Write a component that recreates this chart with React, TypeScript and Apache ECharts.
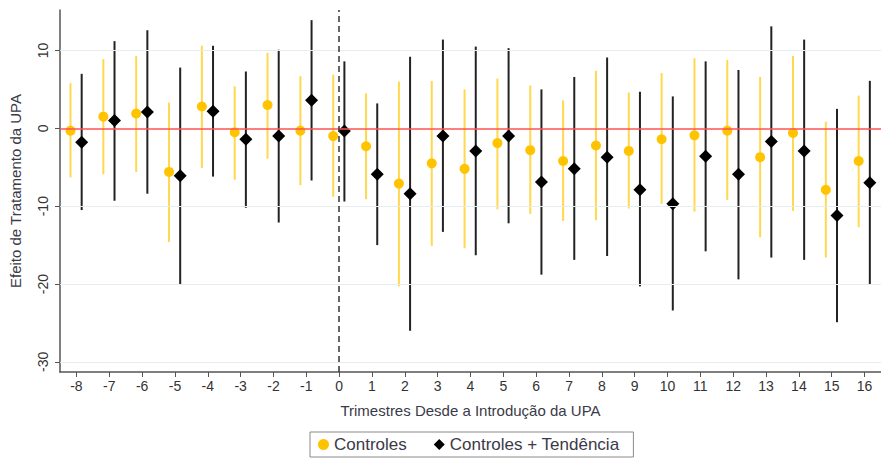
import React, { useEffect, useRef } from "react";
import * as echarts from "echarts";

const quarters = [-8, -7, -6, -5, -4, -3, -2, -1, 0, 1, 2, 3, 4, 5, 6, 7, 8, 9, 10, 11, 12, 13, 14, 15, 16];
const yTicks = [-30, -20, -10, 0, 10];

const ctrlEst = [-0.3, 1.5, 1.9, -5.6, 2.8, -0.5, 3.0, -0.3, -1.0, -2.3, -7.1, -4.5, -5.2, -1.9, -2.8, -4.2, -2.2, -2.9, -1.4, -0.9, -0.3, -3.7, -0.6, -7.9, -4.2];
const ctrlHigh = [5.8, 8.9, 9.3, 3.3, 10.6, 5.4, 9.7, 6.7, 6.9, 4.5, 6.0, 6.1, 5.0, 6.4, 5.5, 3.6, 7.4, 4.6, 7.1, 9.0, 8.8, 6.6, 9.3, 0.85, 4.2];
const ctrlLow = [-6.3, -5.9, -5.6, -14.6, -5.1, -6.6, -3.9, -7.3, -8.8, -9.1, -20.3, -15.1, -15.4, -10.4, -11.0, -11.9, -11.8, -10.3, -9.7, -10.7, -9.2, -14.0, -10.6, -16.6, -12.7];

const trendEst = [-1.8, 1.0, 2.1, -6.1, 2.2, -1.4, -1.0, 3.6, -0.35, -5.9, -8.4, -1.0, -2.9, -1.0, -6.9, -5.2, -3.7, -7.9, -9.7, -3.6, -5.9, -1.7, -2.9, -11.2, -7.0];
const trendHigh = [7.0, 11.2, 12.6, 7.8, 10.6, 7.3, 10.1, 13.9, 8.6, 3.2, 9.2, 11.4, 10.5, 10.3, 5.0, 6.6, 9.1, 4.7, 4.1, 8.6, 7.5, 13.1, 11.4, 2.5, 6.1];
const trendLow = [-10.5, -9.3, -8.4, -20.0, -6.2, -10.2, -12.1, -6.7, -9.4, -15.0, -26.0, -13.3, -16.3, -12.2, -18.8, -16.9, -16.4, -20.3, -23.4, -15.8, -19.4, -16.6, -16.9, -24.9, -20.1];

const ctrlOffset = -0.18;
const trendOffset = 0.16;

const FONT = "'Liberation Sans', Arial, sans-serif";
const YELLOW = "#FFC300";
const YELLOW_CI = "#FFD84D";
const BLACK = "#000000";
const BLACK_CI = "#222222";

function errorBars(name: string, offset: number, lo: number[], hi: number[], color: string, z: number) {
  return {
    name,
    type: "custom",
    z,
    silent: true,
    encode: { x: 0, y: [1, 2] },
    data: quarters.map((q, i) => [q + offset, lo[i], hi[i]]),
    renderItem: (params: any, api: any) => {
      const x = api.value(0);
      const p1 = api.coord([x, api.value(2)]);
      const p2 = api.coord([x, api.value(1)]);
      return {
        type: "line",
        shape: { x1: p1[0], y1: p1[1], x2: p2[0], y2: p2[1] },
        style: { stroke: color, lineWidth: 2 },
      };
    },
  };
}

export default function App() {
  const ref = useRef<HTMLDivElement>(null);
  useEffect(() => {
    if (!ref.current) return;
    const chart = echarts.init(ref.current, null, { renderer: "svg" });
    const option: any = {
      animation: false,
      backgroundColor: "#ffffff",
      textStyle: { fontFamily: FONT },
      grid: { left: 59, top: 10, width: 823, height: 362 },
      legend: {
        left: 310,
        top: 432,
        orient: "horizontal",
        borderColor: "#8a8a8a",
        borderWidth: 1,
        padding: [4, 14, 4, 8],
        itemGap: 27,
        itemWidth: 11,
        itemHeight: 11,
        textStyle: { fontFamily: FONT, fontSize: 17, color: "#3a3a48" },
        data: [
          { name: "Controles", icon: "circle" },
          { name: "Controles + Tendência", icon: "diamond" },
        ],
      },
      xAxis: {
        type: "value",
        min: -8.5,
        max: 16.5,
        name: "Trimestres Desde a Introdução da UPA",
        nameLocation: "middle",
        nameGap: 31,
        nameTextStyle: { fontFamily: FONT, fontSize: 15, color: "#3a3a48" },
        axisLine: { show: true, onZero: false, lineStyle: { color: "#555", width: 1.5 } },
        axisTick: { show: true, customValues: quarters, length: 5, lineStyle: { color: "#555" } },
        axisLabel: { customValues: quarters, fontSize: 14, color: "#333", margin: 7, fontFamily: FONT },
        splitLine: { show: false },
      },
      yAxis: {
        type: "value",
        min: -31.3,
        max: 15.2,
        name: "Efeito de Tratamento da UPA",
        nameLocation: "middle",
        nameGap: 37,
        nameRotate: 90,
        nameTextStyle: { fontFamily: FONT, fontSize: 15, color: "#3a3a48" },
        axisLine: { show: true, onZero: false, lineStyle: { color: "#555", width: 1.5 } },
        axisTick: { show: true, customValues: yTicks, length: 5, lineStyle: { color: "#555" } },
        axisLabel: { customValues: yTicks, rotate: 90, fontSize: 14, color: "#333", margin: 10, fontFamily: FONT },
        splitLine: { show: false },
      },
      series: [
        {
          name: "refs",
          type: "line",
          data: [],
          z: 1,
          silent: true,
          markLine: {
            silent: true,
            symbol: "none",
            label: { show: false },
            animation: false,
            data: [
              ...yTicks.filter((v) => v !== 0).map((v) => ({ yAxis: v, lineStyle: { color: "#e6edf0", width: 1, type: "solid" } })),
              { yAxis: 0, lineStyle: { color: "#ff5252", width: 1.5, type: "solid" } },
              { xAxis: 0, lineStyle: { color: "#333333", width: 1.5, type: [6, 4] } },
            ],
          },
        },
        errorBars("ciCtrl", ctrlOffset, ctrlLow, ctrlHigh, YELLOW_CI, 2),
        errorBars("ciTrend", trendOffset, trendLow, trendHigh, BLACK_CI, 2),
        {
          name: "Controles",
          type: "scatter",
          z: 3,
          symbol: "circle",
          symbolSize: 10,
          itemStyle: { color: YELLOW, opacity: 1 },
          data: quarters.map((q, i) => [q + ctrlOffset, ctrlEst[i]]),
        },
        {
          name: "Controles + Tendência",
          type: "scatter",
          z: 3,
          symbol: "diamond",
          symbolSize: 13,
          itemStyle: { color: BLACK, opacity: 1 },
          data: quarters.map((q, i) => [q + trendOffset, trendEst[i]]),
        },
      ],
    };
    chart.setOption(option);
    return () => chart.dispose();
  }, []);
  return <div ref={ref} style={{ position: "fixed", left: 0, top: 0, width: 881, height: 460 }} />;
}
